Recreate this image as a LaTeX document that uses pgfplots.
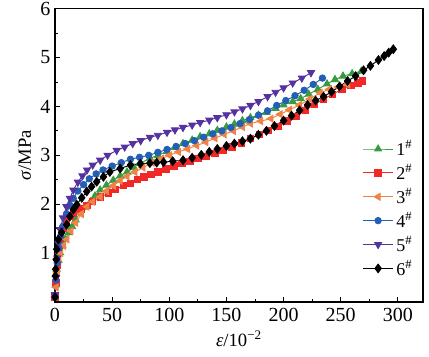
\documentclass[border=0pt]{standalone}
\usepackage{fontspec}
\setmainfont{Liberation Serif}
\usepackage{pgfplots}
\pgfplotsset{compat=1.18}
\definecolor{cg}{RGB}{55,155,65}
\definecolor{cr}{RGB}{240,40,40}
\definecolor{co}{RGB}{240,130,70}
\definecolor{cb}{RGB}{35,95,180}
\definecolor{cp}{RGB}{85,50,160}
\begin{document}
\begin{tikzpicture}
\begin{axis}[
  scale only axis, width=276pt, height=220pt,
  xmin=0, xmax=322, ymin=0, ymax=6,
  xtick={0,50,...,300}, ytick={1,2,...,6},
  minor x tick num=1, minor y tick num=1,
  tick pos=left, tick align=inside,
  major tick length=3.75pt, minor tick length=2pt,
  axis line style={line width=0.8pt}, tick style={line width=0.6pt, black},
  /pgf/number format/assume math mode=true,
  ticklabel style={font=\fontsize{15}{17}\selectfont},
  xticklabel style={yshift=-1pt},
  xlabel={\textit{ε}/10\textsuperscript{−2}},
  ylabel={\textit{σ}/MPa},
  label style={font=\fontsize{14}{16}\selectfont},
  clip=false,
  every axis plot/.append style={line width=0.7pt},
  legend style={at={(0.99,0.57)}, anchor=north east, draw=none, fill=none,
    font=\fontsize{13.5}{15}\selectfont, row sep=1pt},
  legend cell align=left,
  legend image code/.code={\draw[mark repeat=2,mark phase=2] plot coordinates {(0cm,0cm) (0.4cm,0cm) (0.8cm,0cm)};},
]
% 1#
\addplot[color=cg, mark=triangle*, mark size=3pt] coordinates {
(0,0.1) (0.8,0.35) (1.5,0.67) (3,0.85) (4.4,1.01) (6.5,1.15) (8.8,1.28) (12,1.42) (15,1.54) (18,1.68) (22,1.83) (26,1.94) (31,2.05) (35,2.17) (39.5,2.29) (45,2.39) (51,2.49) (57,2.58) (63,2.66) (69,2.75) (75,2.84) (83,2.94) (90,3.0) (98,3.08) (105,3.16) (112,3.24) (120,3.31) (127,3.38) (135,3.44) (142,3.51) (150,3.58) (157,3.64) (164,3.71) (171,3.77) (178,3.82) (185,3.88) (193,3.96) (200,4.03) (208,4.10) (215,4.16) (222,4.25) (230,4.35) (238,4.46) (245,4.55) (252,4.62) (260,4.67) (268,4.72)
};
\addlegendentry{1\textsuperscript{\#}}
% 2#
\addplot[color=cr, mark=square*, mark size=2.4pt] coordinates {
(0,0.1) (1,0.4) (2,0.75) (3.5,1.05) (5,1.3) (7,1.5) (10,1.65) (13,1.75) (16,1.81) (19,1.85) (23,1.9) (28,1.98) (33,2.05) (40,2.15) (47,2.23) (53,2.30) (60,2.38) (66,2.43) (72,2.50) (78,2.56) (84,2.61) (90,2.66) (97,2.72) (104,2.78) (111,2.83) (118,2.88) (125,2.93) (132,2.98) (140,3.04) (147,3.10) (155,3.17) (163,3.25) (171,3.34) (179,3.43) (187,3.51) (195,3.59) (203,3.70) (211,3.80) (219,3.92) (227,4.04) (235,4.15) (243,4.25) (251,4.35) (259,4.43) (265,4.48) (269,4.52)
};
\addlegendentry{2\textsuperscript{\#}}
% 3#
\addplot[color=co, mark=triangle*, mark options={rotate=90}, mark size=3pt] coordinates {
(0,0.1) (1,0.3) (2,0.6) (3.5,0.85) (5,1.0) (7.5,1.15) (10.5,1.28) (14,1.45) (18,1.62) (23,1.80) (28,1.95) (33,2.05) (39.5,2.15) (45,2.27) (51,2.38) (57,2.48) (63,2.57) (70,2.66) (77,2.75) (85,2.85) (93,2.93) (100,3.0) (108,3.07) (116,3.13) (124,3.20) (132,3.27) (140,3.35) (148,3.43) (156,3.50) (164,3.58) (171,3.65) (180,3.70) (189,3.75) (197,3.84) (205,3.93) (214,4.03) (223,4.15) (232,4.28) (240,4.35) (248,4.40) (256,4.45)
};
\addlegendentry{3\textsuperscript{\#}}
% 4#
\addplot[color=cb, mark=*, mark size=2.4pt] coordinates {
(0,0.1) (1,0.45) (2,0.8) (3.5,1.1) (5,1.35) (7,1.55) (10,1.8) (13,1.98) (16,2.12) (20,2.27) (25,2.40) (30,2.52) (36,2.62) (42,2.70) (50,2.78) (58,2.85) (66,2.92) (74,2.96) (82,3.0) (90,3.06) (98,3.12) (106,3.18) (114,3.24) (122,3.30) (130,3.37) (138,3.44) (146,3.50) (154,3.57) (162,3.65) (170,3.73) (178,3.82) (186,3.91) (194,4.02) (202,4.12) (210,4.22) (218,4.33) (226,4.45) (234,4.58)
};
\addlegendentry{4\textsuperscript{\#}}
% 5#
\addplot[color=cp, mark=triangle*, mark options={rotate=180}, mark size=3pt] coordinates {
(0,0.15) (1,0.5) (2,0.9) (3,1.2) (4.5,1.48) (7,1.72) (10,1.95) (13,2.12) (16,2.29) (20,2.45) (24,2.58) (28,2.70) (33,2.80) (39.5,2.90) (46,3.0) (54,3.10) (61,3.17) (68,3.24) (75,3.30) (83,3.37) (90,3.41) (98,3.47) (105,3.52) (112,3.57) (120,3.62) (127,3.67) (135,3.72) (142,3.77) (150,3.83) (157,3.89) (164,3.95) (171,4.02) (178,4.10) (186,4.20) (193,4.29) (200,4.38) (208,4.48) (216,4.58) (224,4.69)
};
\addlegendentry{5\textsuperscript{\#}}
% 6#
\addplot[color=black, mark=diamond*, mark size=3.2pt] coordinates {
(0,0.1) (0.3,0.53) (0.6,0.67) (1,0.87) (1.5,1.08) (2.9,1.28) (5.8,1.42) (10.2,1.58) (13,1.75) (16,1.89) (19,1.99) (23.4,2.13) (27.8,2.26) (32,2.36) (36.5,2.46) (42.4,2.56) (48,2.66) (57,2.73) (66,2.80) (74.6,2.83) (83,2.84) (89,2.85) (95,2.86) (103,2.88) (112,2.90) (120,2.95) (128,3.01) (135,3.07) (142,3.13) (150,3.19) (157,3.24) (164,3.29) (171,3.34) (178,3.42) (185,3.50) (192,3.60) (200,3.71) (207,3.81) (214,3.92) (221,4.03) (228,4.12) (235,4.20) (242,4.30) (249,4.41) (256,4.52) (263,4.62) (270,4.74) (276,4.83) (283,4.95) (288,5.03) (292,5.10) (296,5.17)
};
\addlegendentry{6\textsuperscript{\#}}
\end{axis}
\pgfresetboundingbox
\useasboundingbox ([shift={(-41.25pt,-41.25pt)}]current axis.south west) rectangle ([shift={(4.5pt,6.5pt)}]current axis.north east);
\end{tikzpicture}
\end{document}
